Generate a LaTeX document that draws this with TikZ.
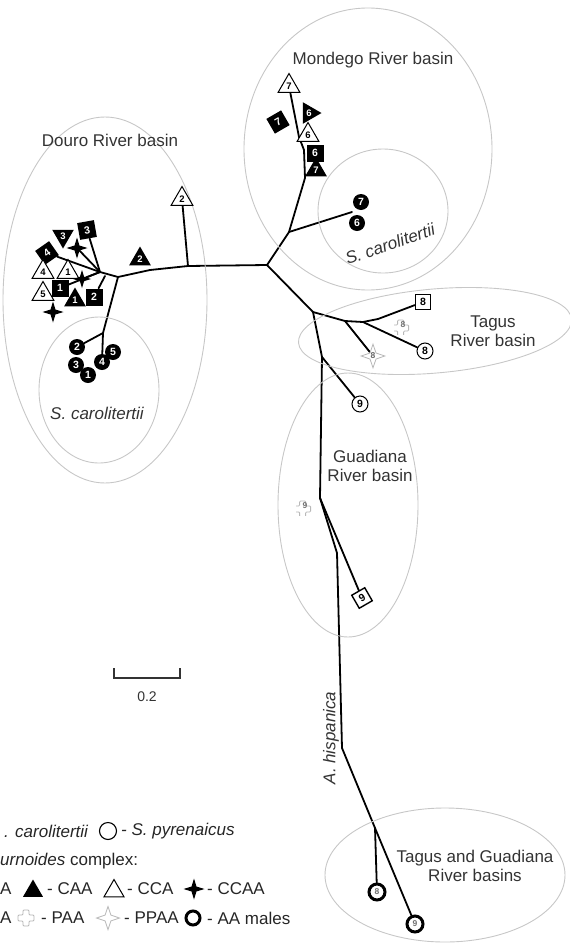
\documentclass[tikz,border=0pt]{standalone}
\usepackage{fontspec}
\setmainfont{Liberation Sans}
\usepackage{tikz}
\usetikzlibrary{shapes.geometric,backgrounds}

\tikzset{
  basin/.style={draw=black!22, line width=0.9pt},
  branch/.style={line width=1.8pt, line join=round, line cap=round},
  lbl/.style={text=black!80, font=\fontsize{17}{19}\selectfont, align=center, inner sep=0pt},
  lbli/.style={lbl, font=\fontsize{17}{19}\selectfont\itshape},
  sym/.style={inner sep=0pt, font=\fontsize{10.5}{10.5}\selectfont\bfseries},
  bsq/.style={sym, rectangle, fill=black, text=white, minimum size=17pt},
  osq/.style={sym, rectangle, draw=black, line width=1.1pt, fill=white, minimum size=15pt},
  btri/.style={sym, regular polygon, regular polygon sides=3, fill=black, text=white, minimum size=25pt, font=\fontsize{9.5}{9.5}\selectfont\bfseries},
  otri/.style={sym, regular polygon, regular polygon sides=3, draw=black, line width=1pt, fill=white, minimum size=25pt, font=\fontsize{9.5}{9.5}\selectfont\bfseries},
  bdot/.style={sym, circle, fill=black, text=white, minimum size=16pt},
  odot/.style={sym, circle, draw=black, line width=1pt, fill=white, minimum size=16pt},
  ring/.style={sym, circle, draw=black, line width=3pt, fill=white, minimum size=16pt, text=black!55, font=\fontsize{8.5}{8.5}\selectfont\bfseries},
  bstar/.style={sym, star, star points=4, star point ratio=3, fill=black, minimum size=21pt},
  gstar/.style={sym, star, star points=4, star point ratio=2.8, draw=black!28, line width=0.8pt, fill=white, minimum size=23pt, text=black!60, font=\fontsize{8.5}{8.5}\selectfont\bfseries},
  gplus/.style={sym, rectangle, fill=white, minimum size=18pt, text=black!55, font=\fontsize{8.5}{8.5}\selectfont\bfseries,
    path picture={\draw[black!28, line width=0.8pt, rounded corners=1pt, shift={(path picture bounding box.center)}]
      (-3,-8) -- (3,-8) -- (3,-3) -- (8,-3) -- (8,3) -- (3,3) -- (3,8) -- (-3,8) -- (-3,3) -- (-8,3) -- (-8,-3) -- (-3,-3) -- cycle;}}
}

\begin{document}
\begin{tikzpicture}[x=1pt, y=-1pt]
\useasboundingbox (0,0) rectangle (570,945);

% river basins
\draw[basin] (105,300) ellipse [x radius=102, y radius=183];
\draw[basin] (99,390) ellipse [x radius=60, y radius=73];
\draw[basin] (368,149) ellipse [x radius=124, y radius=141];
\draw[basin] (383,211) ellipse [x radius=65, y radius=62];
\draw[basin, rotate around={5:(435,331)}] (435,331) ellipse [x radius=137, y radius=42];
\draw[basin] (348,505) ellipse [x radius=70, y radius=132];
\draw[basin] (445,875) ellipse [x radius=120, y radius=67];

\node[lbl] (douro) at (110,140) {Douro River basin};
\node[lbli] (dcarol) at (97,413) {S. carolitertii};
\node[lbl] (mondego) at (373,60) {Mondego River basin};
\node[lbli, rotate=19] (mcarol) at (390,244) {S. carolitertii};
\node[lbl] (tagus) at (493,331) {Tagus\\River basin};
\node[lbl] (guad) at (370,466) {Guadiana\\River basin};
\node[lbl] (tagguad) at (475,866) {Tagus and Guadiana\\River basins};
\node[lbli, rotate=90] (hisp) at (331,738) {A. hispanica};

% Douro
\node[otri] (dotri2) at (182,199) {2};
\node[btri] (dtri2) at (140,259) {2};
\node[bsq, rotate=10] (dsq3) at (87,230) {3};
\node[btri, shape border rotate=180] (dtri3) at (63,236) {3};
\node[bstar] (dstar1) at (77,248) {};
\node[bsq, rotate=35] (dsq4) at (47,253) {4};
\node[otri] (dotri4) at (43,272) {4};
\node[otri] (dotri1) at (68,272) {1};
\node[bstar, minimum size=18pt] (dstar2) at (82,279) {};
\node[bsq] (dsq1) at (60,288) {1};
\node[otri] (dotri5) at (43,294) {5};
\node[bstar] (dstar3) at (53,312) {};
\node[btri] (dtri1) at (75,300) {1};
\node[bsq] (dsq2) at (94,297) {2};
\node[bdot] (dci2) at (77,347) {2};
\node[bdot] (dci5) at (113,352) {5};
\node[bdot] (dci3) at (76,365) {3};
\node[bdot] (dci4) at (102,362) {4};
\node[bdot] (dci1) at (88,375) {1};

% Mondego
\node[otri] (motri7) at (289,86) {7};
\node[bsq, rotate=30] (msq7) at (278,122) {7};
\node[btri, shape border rotate=-90] (mtri6) at (309,113) {6};
\node[otri] (motri6) at (308,135) {6};
\node[bsq] (msq6) at (315,153) {6};
\node[btri] (mtri7) at (316,170) {7};
\node[bdot] (mci7) at (361,202) {7};
\node[bdot] (mci6) at (357,223) {6};

% Tagus and Guadiana
\node[osq] (tsq8) at (423,302) {8};
\node[gplus] (tplus8) at (403,325) {8};
\node[gstar] (tstar8) at (373,356) {8};
\node[odot] (tci8) at (425,351) {8};
\node[odot] (gci9) at (360,404) {9};
\node[gplus] (gplus9) at (305,506) {9};
\node[osq, rotate=30, line width=1.4pt] (gsq9) at (362,598) {9};
\node[ring] (hring8) at (377,892) {8};
\node[ring] (hring9) at (415,924) {9};

% tree
\coordinate (c) at (267,265);
\coordinate (l1) at (188,266);
\coordinate (l2) at (150,270);
\coordinate (dj) at (118,277);
\coordinate (ds) at (100,272);
\coordinate (dm) at (105,276);
\coordinate (dc) at (103,333);
\coordinate (mj) at (289,232);
\coordinate (m1) at (305,178);
\coordinate (m2) at (304,150);
\coordinate (m3) at (299,137);
\coordinate (mc) at (352,212);
\coordinate (tj) at (313,312);
\coordinate (t1) at (345,321);
\coordinate (t2) at (363,322);
\coordinate (t3) at (378,319);
\coordinate (tk) at (322,357);
\coordinate (g1) at (320,498);
\coordinate (g2) at (337,553);
\coordinate (h1) at (342,748);
\coordinate (h2) at (375,828);

\begin{scope}[on background layer]
\draw[branch] (c) -- (l1) -- (l2) -- (dj) -- (ds) -- (dsq4);
\draw[branch] (l1) -- (dotri2);
\draw[branch] (ds) -- (dsq3);
\draw[branch] (ds) -- (dstar1);
\draw[branch] (ds) -- (dstar2);
\draw[branch] (ds) -- (dsq1);
\draw[branch] (dm) -- (dsq2);
\draw[branch] (dj) -- (dc) -- (dci2);
\draw[branch] (dc) -- (dci4);
\draw[branch] (c) -- (mj) -- (m1) -- (m2) -- (m3) -- (motri7);
\draw[branch] (mj) -- (mc);
\draw[branch] (c) -- (tj) -- (t1) -- (t2) -- (t3) -- (tsq8);
\draw[branch] (t1) -- (tstar8);
\draw[branch] (t2) -- (tci8);
\draw[branch] (tj) -- (tk) -- (gci9);
\draw[branch] (tk) -- (g1) -- (g2) -- (h1) -- (h2) -- (hring8);
\draw[branch] (h2) -- (hring9);
\draw[branch] (g1) -- (gsq9);
\end{scope}

% scale bar
\coordinate (sbl) at (114,678);
\coordinate (sbr) at (180,678);
\draw[line width=1.3pt, black!80] (sbl) ++(0,-10) -- (sbl) -- (sbr) -- ++(0,-10);
\node[lbl, font=\fontsize{14}{16}\selectfont] (sbt) at (147,697) {0.2};

% legend
\node[lbli, anchor=west, text=black!85] (lg1) at (4,831) {. carolitertii};
\node[odot, minimum size=17pt, line width=1.1pt] (lgpyr) at (108,831) {};
\node[lbli, anchor=west, text=black!85] (lg1b) at (121,831) {- S. pyrenaicus};
\node[lbl, anchor=west, text=black!85] (lg2) at (0,861) {\textit{urnoides} complex:};
\node[lbl, anchor=west, text=black!85] (lg3) at (0,889) {A};
\node[btri, minimum size=23pt] (lgcaa) at (33,891) {};
\node[lbl, anchor=west, text=black!85] (lg3a) at (47,889) {- CAA};
\node[otri, minimum size=23pt] (lgcca) at (114,891) {};
\node[lbl, anchor=west, text=black!85] (lg3b) at (127,889) {- CCA};
\node[bstar] (lgccaa) at (194,889) {};
\node[lbl, anchor=west, text=black!85] (lg3c) at (207,889) {- CCAA};
\node[lbl, anchor=west, text=black!85] (lg4) at (0,918) {A};
\node[gplus] (lgpaa) at (26,918) {};
\node[lbl, anchor=west, text=black!85] (lg4a) at (41,918) {- PAA};
\node[gstar] (lgppaa) at (108,918) {};
\node[lbl, anchor=west, text=black!85] (lg4b) at (124,918) {- PPAA};
\node[ring, minimum size=14pt] (lgmale) at (193,918) {};
\node[lbl, anchor=west, text=black!85] (lg4c) at (207,918) {- AA males};
\end{tikzpicture}
\end{document}
